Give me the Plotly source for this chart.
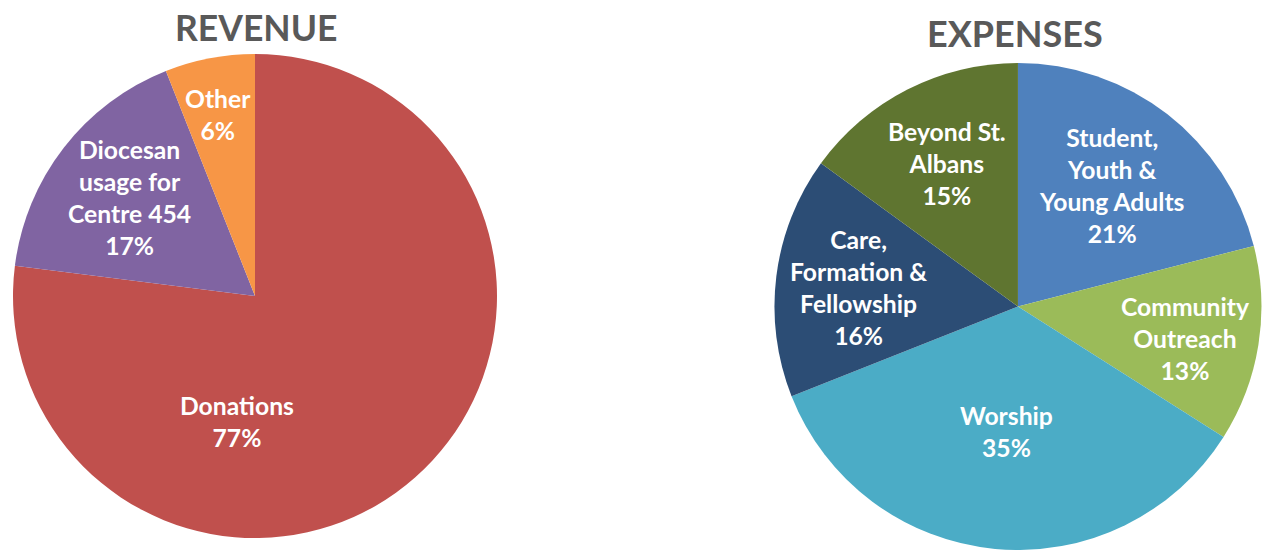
import plotly.graph_objects as go

# ---- data ----
rev_labels = ["Donations", "Diocesan<br>usage for<br>Centre 454", "Other"]
rev_values = [77, 17, 6]
rev_colors = ["#C0504D", "#8064A2", "#F79646"]

exp_labels = ["Student,<br>Youth &<br>Young Adults", "Community<br>Outreach", "Worship",
              "Care,<br>Formation &<br>Fellowship", "Beyond St.<br>Albans"]
exp_values = [21, 13, 35, 16, 15]
exp_colors = ["#4F81BD", "#9BBB59", "#4BACC6", "#2C4D75", "#5F7530"]

titles = ["REVENUE", "EXPENSES"]

# ---- layout constants ----
W, H = 1262, 550
FONT = "Lato"
rev_dom = dict(x=[13 / W, 497 / W], y=[12 / H, 496 / H])
exp_dom = dict(x=[774 / W, 1261.9 / W], y=[0, 487 / H])

# label offsets relative to pie centre, in units of radius (screen coords, y down)
rev_off = [(-0.074, 0.517), (-0.517, -0.405), (-0.153, -0.750)]
exp_off = [(0.386, -0.495), (0.690, 0.133), (-0.045, 0.513), (-0.653, -0.076), (-0.292, -0.589)]

fig = go.Figure()
fig.add_trace(go.Pie(labels=rev_labels, values=rev_values, sort=False, direction="clockwise",
                     marker=dict(colors=rev_colors, line=dict(width=0)), textinfo="none",
                     hoverinfo="skip", domain=rev_dom, showlegend=False))
fig.add_trace(go.Pie(labels=exp_labels, values=exp_values, sort=False, direction="clockwise",
                     marker=dict(colors=exp_colors, line=dict(width=0)), textinfo="none",
                     hoverinfo="skip", domain=exp_dom, showlegend=False))


def centre(dom):
    x0, x1 = dom["x"][0] * W, dom["x"][1] * W
    y0, y1 = (1 - dom["y"][1]) * H, (1 - dom["y"][0]) * H
    r = min(x1 - x0, y1 - y0) / 2
    return (x0 + x1) / 2, (y0 + y1) / 2, r


annotations = []
for labels, values, dom, offs in [(rev_labels, rev_values, rev_dom, rev_off),
                                  (exp_labels, exp_values, exp_dom, exp_off)]:
    cx, cy, r = centre(dom)
    total = sum(values)
    for lab, v, (dx, dy) in zip(labels, values, offs):
        pct = round(v / total * 100)
        annotations.append(dict(
            text=f"{lab}<br>{pct}%", x=(cx + dx * r) / W, y=1 - (cy + dy * r) / H,
            xref="paper", yref="paper", xanchor="center", yanchor="middle",
            showarrow=False, align="center",
            font=dict(family=FONT, size=24.7, color="white", weight="bold")))

annotations.append(dict(text=titles[0], x=256 / W, y=1 - 27.6 / H, xref="paper", yref="paper",
                        xanchor="center", yanchor="middle", showarrow=False,
                        font=dict(family=FONT, size=35.5, color="#595959", weight="bold")))
annotations.append(dict(text=titles[1], x=1015 / W, y=1 - 33 / H, xref="paper", yref="paper",
                        xanchor="center", yanchor="middle", showarrow=False,
                        font=dict(family=FONT, size=36, color="#595959", weight="bold")))

fig.update_layout(width=W, height=H, margin=dict(l=0, r=0, t=0, b=0),
                  paper_bgcolor="white", plot_bgcolor="white", annotations=annotations)

fig.write_html("out.html", config={"displayModeBar": False},
               post_script="document.body.style.margin='0';document.body.style.overflow='hidden';")
